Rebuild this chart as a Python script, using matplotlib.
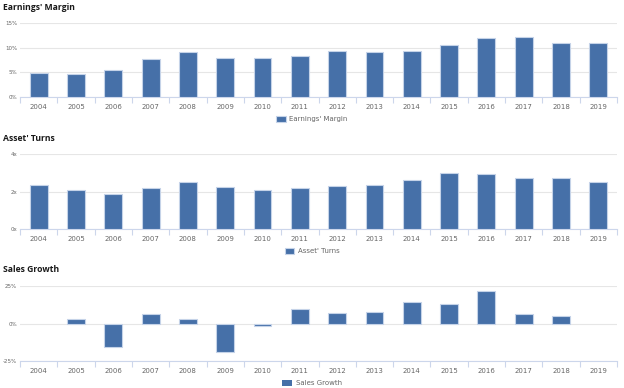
import numpy as np
import matplotlib
matplotlib.use('Agg')
import matplotlib.pyplot as plt
from matplotlib.ticker import FixedLocator

years = ['2004', '2005', '2006', '2007', '2008', '2009', '2010', '2011',
         '2012', '2013', '2014', '2015', '2016', '2017', '2018', '2019']

earnings_margin = [4.9, 4.7, 5.5, 7.8, 9.05, 7.9, 7.9, 8.25,
                   9.25, 9.1, 9.25, 10.6, 11.9, 12.1, 10.9, 10.9]
asset_turns = [2.35, 2.1, 1.85, 2.2, 2.5, 2.25, 2.1, 2.18,
               2.32, 2.35, 2.62, 2.98, 2.93, 2.71, 2.71, 2.5]
sales_growth = [0, 3.1, -15.6, 6.4, 3.1, -18.7, -1.8, 10.0,
                7.3, 7.6, 14.4, 12.7, 21.5, 6.6, 4.9, 0]

BAR = '#4670a8'
EDGE = '#c5d3e8'
GRID = '#e6e6e6'
AXIS = '#ccd6eb'
TXT = '#666666'

W, H = 624, 388
fig = plt.figure(figsize=(W / 100, H / 100), dpi=100)

panels = [
    # title, data, legend label, ylim, yticks, ytick labels, title y, plot top, plot bottom, legend y
    ("Earnings' Margin", earnings_margin, "Earnings' Margin", (0, 15), [0, 5, 10, 15],
     ['0%', '5%', '10%', '15%'], 7, 23, 97, 119),
    ("Asset' Turns", asset_turns, "Asset' Turns", (0, 4), [0, 2, 4],
     ['0x', '2x', '4x'], 138, 154, 229, 251),
    ("Sales Growth", sales_growth, "Sales Growth", (-25, 25), [-25, 0, 25],
     ['-25%', '0%', '25%'], 269, 286, 361, 383),
]

x = np.arange(len(years))
left, right = 20, 617

for title, vals, lab, ylim, yt, ytl, ty, ptop, pbot, ly in panels:
    ax = fig.add_axes([left / W, 1 - pbot / H, (right - left) / W, (pbot - ptop) / H])
    bars = ax.bar(x, vals, width=0.48, color=BAR, edgecolor=EDGE, linewidth=0.8,
                  label=lab, zorder=3)
    for b, v in zip(bars, vals):
        if v == 0:
            b.set_linewidth(0)
    ax.set_xlim(-0.5, len(years) - 0.5)
    ax.set_ylim(*ylim)
    ax.set_yticks(yt)
    ax.set_yticklabels(ytl)
    ax.grid(axis='y', color=GRID, linewidth=0.8, zorder=0)
    for s in ['top', 'right', 'left']:
        ax.spines[s].set_visible(False)
    ax.spines['bottom'].set_color(AXIS)
    ax.spines['bottom'].set_linewidth(0.8)
    ax.set_xticks(x)
    ax.set_xticklabels(years)
    ax.xaxis.set_minor_locator(FixedLocator(np.arange(-0.5, len(years), 1.0)))
    ax.tick_params(axis='x', which='major', length=0, labelsize=5, labelcolor=TXT, pad=5)
    ax.tick_params(axis='x', which='minor', length=4, color=AXIS, width=0.8)
    ax.tick_params(axis='y', length=0, labelsize=4, labelcolor=TXT, pad=2)
    fig.text(3 / W, 1 - ty / H, title, fontsize=6.2, fontweight='bold',
             family='Open Sans', color='#1a1a1a', va='center', ha='left')
    ax.legend(loc='center', bbox_to_anchor=(0.5, 1 - ly / H), bbox_transform=fig.transFigure,
              frameon=False, fontsize=5, labelcolor=TXT, handlelength=1.4,
              handleheight=0.9, handletextpad=0.5, borderpad=0)

fig.savefig('out.png', dpi=100)
